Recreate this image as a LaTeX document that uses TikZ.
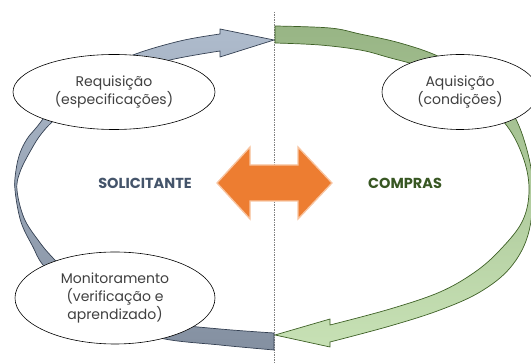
\documentclass[tikz,border=0pt]{standalone}
\usepackage{fontspec}
\setmainfont{Poppins}
\usetikzlibrary{shapes.geometric}
\definecolor{bluetop}{RGB}{174,187,204}
\definecolor{bluebot}{RGB}{132,144,161}
\definecolor{blueline}{RGB}{52,64,82}
\definecolor{greentop}{RGB}{152,181,133}
\definecolor{greenbot}{RGB}{199,225,181}
\definecolor{greenline}{RGB}{62,96,38}
\definecolor{txtgray}{RGB}{64,64,64}
\definecolor{solic}{RGB}{68,84,106}
\definecolor{compras}{RGB}{56,87,35}
\definecolor{arroworange}{RGB}{237,125,49}
\definecolor{arrowrim}{RGB}{248,196,160}
\begin{document}
\begin{tikzpicture}[x=1pt,y=1pt,yscale=-1,
  bubble/.style={ellipse, draw=black, fill=white, line width=0.6pt, inner sep=0pt,
    align=center, text=txtgray, font=\fontsize{14}{18}\selectfont},
  sidelabel/.style={font=\bfseries\fontsize{14.5}{16}\selectfont}]
\clip (0,0) rectangle (531,363);

%Dotted divider
\coordinate (divtop) at (274,12);
\coordinate (divbot) at (274,363);
\draw [gray, line width=1pt, dash pattern=on 1.5pt off 1pt] (divtop) -- (divbot);

%Shape: left band (solicitante)
\draw [blueline, line width=0.7pt, top color=bluetop, bottom color=bluebot]
  plot [smooth, tension=0.6] coordinates {(274,350) (220,345) (160,338) (110,320) (70,295) (43,265) (33,247) (21,222) (15,190) (16,170) (20,153) (27,139) (36,128) (60,100) (100,72) (133,55) (180,41) (220,34)}
  -- (220,29) -- (274,40) -- (220,57) -- (220,51)
  -- plot [smooth, tension=0.6] coordinates {(220,51) (170,60) (130,73) (90,95) (57,118) (42,133) (31,150) (20,172) (17,190) (24,218) (38,240) (53,258) (85,290) (120,311) (167,323) (220,329) (274,333)}
  -- cycle;

%Shape: right band (compras)
\draw [greenline, line width=0.7pt, top color=greentop, bottom color=greenbot]
  plot [smooth, tension=0.6] coordinates {(275,26) (330,28) (360,34) (400,43) (440,57) (485,82) (512,112) (527,150) (533,190) (528,235) (510,268) (480,292) (440,310) (390,326) (330,342)}
  -- (330,347) -- (275,335) -- (330,319) -- (330,325)
  -- plot [smooth, tension=0.6] coordinates {(330,325) (390,309) (440,292) (475,272) (500,250) (522,222) (529,192) (524,160) (507,126) (475,95) (430,70) (387,57) (360,50) (320,45) (275,43)}
  -- cycle;

%Shape: double arrow
\draw [arrowrim, line width=1.3pt, fill=arroworange]
  (217,183) -- (250,147) -- (250,165) -- (298,165) -- (298,147) -- (332,183)
  -- (298,219) -- (298,201) -- (250,201) -- (250,219) -- cycle;

% Bubble Nodes
\node [bubble, minimum width=202pt, minimum height=75pt] (req) at (114,92) {Requisição\\(especificações)};
\node [bubble, minimum width=156pt, minimum height=75pt] (aq) at (460,92) {Aquisição\\(condições)};
\node [bubble, minimum width=200pt, minimum height=92pt] (mon) at (115,298) {Monitoramento\\(verificação e\\aprendizado)};

% Text Node
\node [sidelabel, text=solic] (sol) at (145,183) {SOLICITANTE};
% Text Node
\node [sidelabel, text=compras] (comp) at (405,183) {COMPRAS};
\end{tikzpicture}
\end{document}
